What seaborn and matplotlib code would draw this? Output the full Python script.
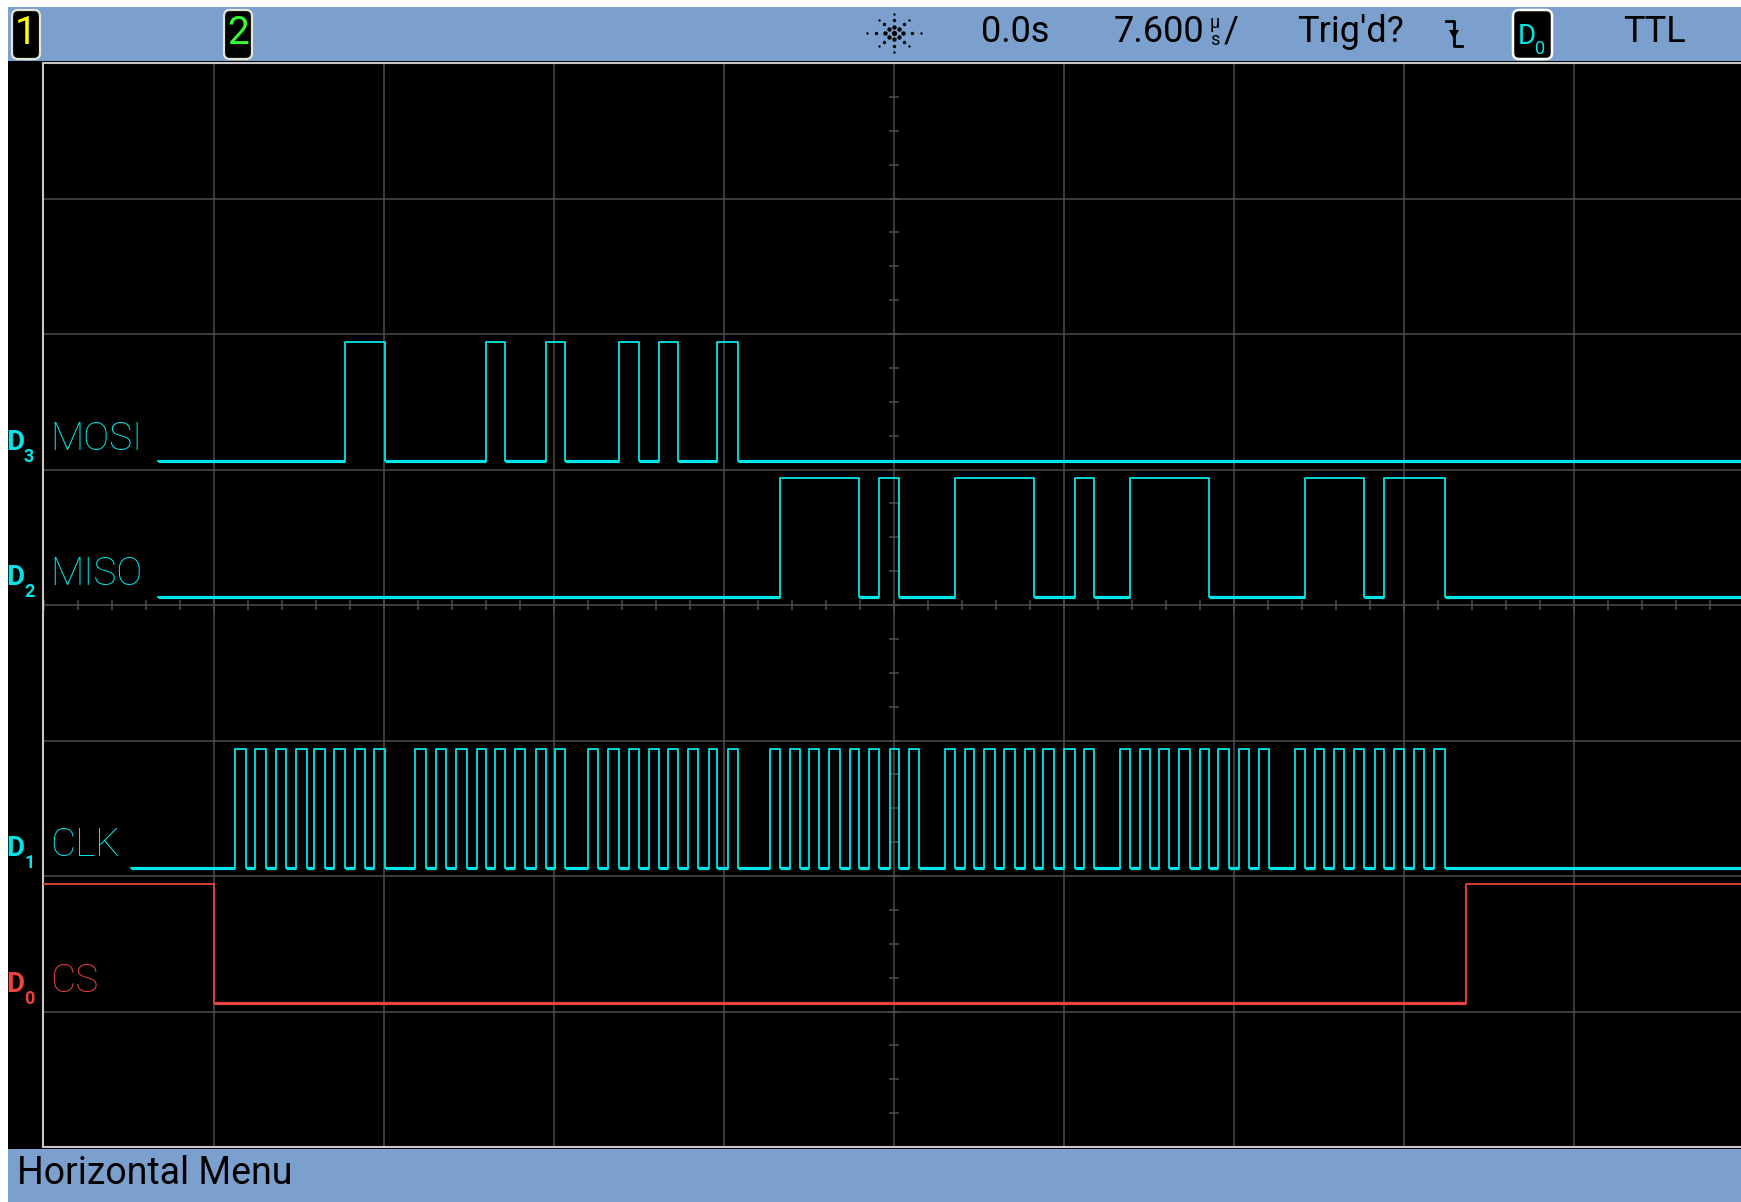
import numpy as np
import pandas as pd
import matplotlib.pyplot as plt
from matplotlib.patches import Rectangle, FancyBboxPatch, Polygon
import seaborn as sns

W, H = 1741, 1202
UI = ['Roboto', 'DejaVu Sans']

#---------------------------------------- DATA ----------------------------------------#
# time base 7.6 us/div, screen centre = 0 us, 8 vertical divisions
us_per_div = 7.6
x_left, x_right = -38.04, 37.87

names = ['MOSI', 'MISO', 'CLK', 'CS']
chan_ids = ['3', '2', '1', '0']
slots = [5, 4, 2, 1]
start_state = [0, 0, 0, 1]
trace_start = [-32.90, -32.90, -34.11, x_left]

# edge times (us), alternating toggles
clk_byte1 = [-29.46, -28.98, -28.55, -28.08, -27.63, -27.16, -26.72, -26.26,
             -25.92, -25.44, -25.01, -24.53, -24.07, -23.63, -23.25, -22.77]
clk_byte2 = [-21.40, -20.94, -20.49, -20.04, -19.56, -19.10, -18.65, -18.25,
             -17.84, -17.37, -16.94, -16.47, -16.00, -15.54, -15.17, -14.71]
clk_byte3 = [-13.67, -13.21, -12.76, -12.29, -11.85, -11.39, -10.94, -10.52,
             -10.11, -9.63, -9.20, -8.74, -8.27, -7.89, -7.43, -6.97]
clk_byte4 = [-5.55, -5.08, -4.63, -4.22, -3.80, -3.34, -2.88, -2.41,
             -1.96, -1.55, -1.12, -0.67, -0.19, 0.24, 0.69, 1.14]
clk_byte5 = [2.29, 2.74, 3.19, 3.60, 4.04, 4.51, 4.94, 5.43,
             5.86, 6.27, 6.68, 7.15, 7.60, 8.08, 8.51, 8.96]
clk_byte6 = [10.11, 10.56, 11.02, 11.43, 11.86, 12.31, 12.76, 13.23,
             13.68, 14.09, 14.50, 14.98, 15.43, 15.88, 16.33, 16.78]
clk_byte7 = [17.93, 18.38, 18.83, 19.25, 19.68, 20.13, 20.58, 21.03,
             21.50, 21.91, 22.37, 22.80, 23.25, 23.68, 24.15, 24.62]
clk_edges = clk_byte1 + clk_byte2 + clk_byte3 + clk_byte4 + clk_byte5 + clk_byte6 + clk_byte7

mosi_edges = [-24.53, -22.77, -18.25, -17.37, -15.54, -14.71,
              -12.29, -11.39, -10.52, -9.63, -7.89, -6.97]
miso_edges = [-5.08, -1.55, -0.67, 0.24, 2.74, 6.27, 8.08, 8.96,
              10.56, 14.09, 18.38, 21.03, 21.91, 24.62]
cs_edges = [-30.40, 25.57]
edges = [mosi_edges, miso_edges, clk_edges, cs_edges]

cyan = '#00e6e6'
red = '#ea423e'
colors = [cyan, cyan, cyan, red]
bar_blue = '#7ba0cd'

#---------------------------------------- FIGURE ----------------------------------------#
fig = plt.figure(figsize=(W / 100, H / 100), dpi=100, facecolor='white')
bg = fig.add_axes([0, 0, 1, 1])
bg.set_xlim(0, W)
bg.set_ylim(H, 0)
bg.axis('off')

bg.add_patch(Rectangle((8, 7), W - 8, 54, color=bar_blue, lw=0))
bg.add_patch(Rectangle((8, 61), W - 8, 1088, color='black', lw=0))
bg.add_patch(Rectangle((8, 1149), W - 8, H - 1149, color=bar_blue, lw=0))

# channel 1 / 2 badges
for x0, txt, c in [(12, '1', '#ffff00'), (224, '2', '#33ff33')]:
    bg.add_patch(FancyBboxPatch((x0, 10), 28, 49, boxstyle='round,pad=0,rounding_size=6',
                                fc='black', ec='#e6e6d6', lw=1.6))
    bg.text(x0 + 14, 33, txt, color=c, fontsize=28, family=UI, ha='center', va='center')

# trigger position marker
bg.add_patch(Polygon([(203, 63), (227, 63), (215, 76)], closed=True, color='#ff8a1c', lw=0))

# agilent spark logo
for ang in np.arange(0, 360, 45):
    for r, s in [(7, 10), (14, 6), (21, 3)]:
        rr = r * (1.3 if ang % 180 == 0 else 1.0)
        bg.scatter(894 + rr * np.cos(np.radians(ang)), 33 - rr * np.sin(np.radians(ang)) * 0.9,
                   s=s, color='black', lw=0)
bg.scatter([894], [33], s=14, color='black', lw=0)

top_kw = dict(color='black', fontsize=26, family=UI, va='center')
bg.text(981, 32, '0.0s', **top_kw)
bg.text(1204, 32, '7.600', ha='right', **top_kw)
bg.text(1215, 23, 'µ', color='black', fontsize=13, family=UI, ha='center', va='center')
bg.text(1215, 40, 's', color='black', fontsize=13, family=UI, ha='center', va='center')
bg.text(1224, 32, '/', **top_kw)
bg.text(1297, 32, "Trig'd?", **top_kw)
bg.text(1623, 32, 'TTL', **top_kw)
bg.text(17, 1174, 'Horizontal Menu', color='black', fontsize=27, family=UI, va='center')

# falling-edge trigger symbol
bg.plot([1446, 1454, 1454, 1462], [21, 21, 46, 46], color='black', lw=2)
bg.add_patch(Polygon([(1449, 30), (1459, 30), (1454, 39)], closed=True, color='black', lw=0))

# D0 trigger source badge
bg.add_patch(FancyBboxPatch((1513, 10), 39, 49, boxstyle='round,pad=0,rounding_size=6',
                            fc='black', ec='white', lw=1.8))
bg.text(1518, 44, 'D', color=cyan, fontsize=20, family=UI, va='baseline')
bg.text(1535, 54, '0', color=cyan, fontsize=13, family=UI, va='baseline')

#---------------------------------------- SCOPE GRID ----------------------------------------#
ax = fig.add_axes([43 / W, (H - 1147) / H, (W - 43) / W, 1084 / H])
ax.set_facecolor('black')
ax.set_xlim(x_left, x_right)
ax.set_ylim(0, 8)

grid_c = '#4c4c4c'
for k in range(-4, 5):
    ax.axvline(k * us_per_div, color=grid_c, lw=1.1, zorder=1)
for k in range(1, 8):
    ax.axhline(k, color=grid_c, lw=1.1, zorder=1)

# minor ticks on the centre axes
xt = np.arange(-25, 26) * us_per_div / 5
xt = xt[(xt > x_left) & (xt < x_right)]
ax.plot(xt, np.full_like(xt, 4.0), ls='none', marker='|', ms=6.5, mew=1.1, color=grid_c, zorder=1)
yt = np.arange(1, 32) / 4
ax.plot(np.zeros_like(yt), yt, ls='none', marker='_', ms=6.5, mew=1.1, color=grid_c, zorder=1)

for side in ['left', 'top', 'bottom']:
    ax.spines[side].set_color('#c8c8c8')
    ax.spines[side].set_linewidth(1.5)
ax.spines['right'].set_visible(False)
ax.set_xticks([])
ax.set_yticks([])

#---------------------------------------- TRACES ----------------------------------------#
for name, cid, slot, st, t0, ed, c in zip(names, chan_ids, slots, start_state,
                                            trace_start, edges, colors):
    lo, hi = slot + 0.062, slot + 0.938
    t = [t0] + ed + [x_right + 1]
    state = [(st + i) % 2 for i in range(len(t))]
    state[-1] = state[-2]
    df = pd.DataFrame({'t': t, 'v': [hi if s else lo for s in state]})
    sns.lineplot(data=df, x='t', y='v', drawstyle='steps-post', estimator=None, sort=False,
                 color=c, lw=1.3, ax=ax, zorder=3)
    # the low level is drawn heavier on the scope screen
    for a, b, s in zip(t[:-1], t[1:], state[:-1]):
        if s == 0:
            ax.hlines(lo, a, b, color=c, lw=2.3, zorder=3)

    ax.text(-37.73, slot + 0.144, name, color=c, fontsize=28, family=UI,
            fontweight='light', va='baseline')
    yb = 1147 - (slot + 0.144) * 135.5
    bg.text(6, yb, 'D', color=c, fontsize=20, family=UI, fontweight='bold', va='baseline')
    bg.text(24, yb + 12, cid, color=c, fontsize=13, family=UI, fontweight='bold', va='baseline')

ax.set_xlim(x_left, x_right)
ax.set_ylim(0, 8)
ax.set_xlabel('')
ax.set_ylabel('')

fig.savefig('out.png', dpi=100, facecolor='white')
